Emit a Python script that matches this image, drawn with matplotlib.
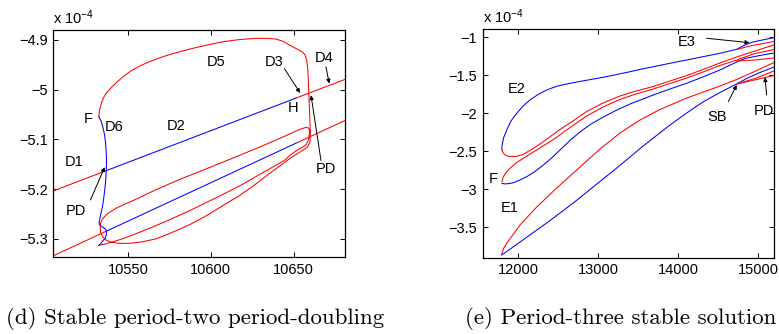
import matplotlib
matplotlib.use("Agg")
import matplotlib.pyplot as plt

plt.rcParams['font.family'] = ['Liberation Sans', 'DejaVu Sans']
plt.rcParams['mathtext.fontset'] = 'custom'
plt.rcParams['mathtext.rm'] = 'Liberation Sans'
plt.rcParams['mathtext.it'] = 'Liberation Sans'
plt.rcParams['mathtext.bf'] = 'Liberation Sans'

# ---------------- panel (d) data (y in units of 1e-4) ----------------
d_upper_red1_x = [10505, 10537]
d_upper_red1_y = [-5.2036, -5.1629]
d_upper_blue_x = [10537, 10651.4]
d_upper_blue_y = [-5.1629, -5.0172]
d_upper_red2_x = [10651.4, 10681]
d_upper_red2_y = [-5.0172, -4.9796]

d_lower_red1_x = [10505, 10538]
d_lower_red1_y = [-5.334, -5.283]
d_lower_blue_x = [10538, 10652.4]
d_lower_blue_y = [-5.283, -5.1063]
d_lower_red2_x = [10652.4, 10681]
d_lower_red2_y = [-5.1063, -5.0621]

d_loop_x = [10532.5, 10532.7, 10533.3, 10534.2, 10535.4, 10537.2, 10539.6, 10542.6,
            10547.0, 10551.6, 10557.0, 10563.1, 10569.1, 10575.1, 10581.1, 10587.2,
            10593.2, 10600.4, 10607.2, 10617.3, 10627.3, 10634.2, 10639.4, 10644.1,
            10647.4, 10651.6, 10655.4, 10657.0, 10657.9, 10658.6, 10659.0, 10659.5,
            10659.9, 10660.1, 10659.8, 10658.4, 10655.8, 10653.4, 10648.6, 10643.4,
            10635.4, 10627.3, 10617.3, 10607.2, 10597.4, 10587.2, 10576.9, 10567.1,
            10558.9, 10551.0, 10545.0, 10540.2, 10536.9, 10534.8, 10533.6, 10533.3,
            10533.6, 10534.8, 10537.0, 10539.6, 10543.0, 10547.4, 10553.0, 10560.1,
            10567.1, 10581.1, 10593.2, 10611.3, 10630.4, 10644.4, 10651.0, 10654.6,
            10657.5, 10658.9, 10659.7, 10659.5, 10659.2, 10658.3, 10657.5, 10655.6,
            10653.4, 10649.2, 10644.4, 10630.5, 10617.3, 10602.2, 10587.2, 10575.2,
            10563.1, 10554.0, 10546.8, 10542.0, 10539.0, 10535.4, 10532.5]
d_loop_y = [-5.0552, -5.0458, -5.0357, -5.0256, -5.0155, -5.0065, -4.9974, -4.9873,
            -4.9746, -4.9631, -4.9530, -4.9440, -4.9363, -4.9298, -4.9242, -4.9188,
            -4.9141, -4.9087, -4.9040, -4.8996, -4.8972, -4.8972, -4.8986, -4.9036,
            -4.9107, -4.9177, -4.9248, -4.9308, -4.9409, -4.9611, -4.9948, -5.0351,
            -5.0685, -5.0921, -5.1062, -5.1153, -5.1214, -5.1264, -5.1365, -5.1492,
            -5.1687, -5.1895, -5.2131, -5.2333, -5.2534, -5.2716, -5.2867, -5.2998,
            -5.3058, -5.3089, -5.3091, -5.3068, -5.3028, -5.2957, -5.2877, -5.2776,
            -5.2675, -5.2595, -5.2514, -5.2453, -5.2383, -5.2312, -5.2232, -5.2121,
            -5.2010, -5.1808, -5.1647, -5.1405, -5.1143, -5.0941, -5.0841, -5.0790,
            -5.0760, -5.0770, -5.0821, -5.0901, -5.0982, -5.1062, -5.1113, -5.1153,
            -5.1193, -5.1284, -5.1425, -5.1687, -5.1939, -5.2191, -5.2433, -5.2615,
            -5.2786, -5.2907, -5.2998, -5.3048, -5.3078, -5.3109, -5.3129]

d_d6_x = [10532.5, 10533.9, 10534.9, 10536.3, 10537.0, 10537.1, 10536.6, 10535.2,
          10533.7, 10532.7, 10532.7, 10533.0, 10533.7, 10534.6, 10535.4, 10536.0,
          10536.6, 10537.0, 10537.1, 10536.9, 10536.6, 10536.0, 10534.9, 10533.9,
          10532.5]
d_d6_y = [-5.3129, -5.3084, -5.3038, -5.2988, -5.2917, -5.2857, -5.2806, -5.2772,
          -5.2742, -5.2705, -5.2655, -5.2601, -5.2494, -5.2367, -5.2191, -5.2030,
          -5.1828, -5.1613, -5.1425, -5.1244, -5.1089, -5.0921, -5.0754, -5.0639,
          -5.0552]

d_xticks = [10550, 10600, 10650]
d_yticks = [-4.9, -5.0, -5.1, -5.2, -5.3]
d_yticklabels = ['\u22124.9', '\u22125', '\u22125.1', '\u22125.2', '\u22125.3']

d_labels = ['D5', 'D3', 'D4', 'H', 'F', 'D6', 'D2', 'D1', 'PD', 'PD']
d_label_x = [10603.2, 10638.4, 10668.5, 10649.4, 10525.9, 10542.0, 10579.2, 10517.3, 10518.5, 10669.5]
d_label_y = [-4.9444, -4.9440, -4.9375, -5.0380, -5.0585, -5.0754, -5.0740, -5.1460, -5.2447, -5.1590]

d_arrow_from = [(10644.4, -4.9577), (10669.5, -4.9544), (10666.5, -5.1425), (10527.4, -5.2218)]
d_arrow_to = [(10653.9, -5.0069), (10671.5, -4.9879), (10660.5, -5.0115), (10536.0, -5.1560)]

# ---------------- panel (e) data (y in units of 1e-4) ----------------
e_blue_E2_x = [15196, 15021, 14921, 14834, 14730, 14521, 14309, 14105, 13896, 13688,
               13534, 13396, 13234, 13063, 12859, 12646, 12484, 12355, 12246, 12146,
               12059, 11980, 11909, 11855, 11815, 11796, 11796]
e_blue_E2_y = [-1.005, -1.042, -1.066, -1.101, -1.158, -1.211, -1.255, -1.299, -1.342,
               -1.387, -1.420, -1.453, -1.489, -1.526, -1.564, -1.605, -1.643, -1.693,
               -1.753, -1.825, -1.904, -2.000, -2.101, -2.220, -2.325, -2.430, -2.483]
e_red_E2_x = [11796, 11809, 11834, 11871, 11921, 11980, 12059, 12146, 12228, 12313,
              12409, 12521, 12684, 12855, 13059, 13271, 13471, 13688, 13896, 14105,
              14309, 14521, 14730, 14938, 15196]
e_red_E2_y = [-2.483, -2.516, -2.549, -2.564, -2.570, -2.566, -2.542, -2.489, -2.434,
              -2.374, -2.299, -2.213, -2.101, -1.976, -1.864, -1.772, -1.707, -1.647,
              -1.575, -1.503, -1.424, -1.338, -1.259, -1.187, -1.101]
e_red_F_x = [11796, 11809, 11834, 11863, 11896, 11971, 12063, 12146, 12230, 12309,
             12396, 12484, 12584, 12709, 12855, 13059, 13271, 13471, 13688, 13896,
             14105, 14309, 14521, 14730, 14938, 15196]
e_red_F_y = [-2.897, -2.845, -2.799, -2.759, -2.724, -2.654, -2.592, -2.536, -2.483,
             -2.430, -2.374, -2.312, -2.233, -2.141, -2.036, -1.917, -1.818, -1.746,
             -1.680, -1.608, -1.536, -1.457, -1.371, -1.299, -1.220, -1.161]
e_blue_F_x = [11796, 11821, 11855, 11896, 11938, 12021, 12105, 12209, 12313, 12409,
              12521, 12646, 12771, 12909, 13063, 13221, 13396, 13688, 13896, 14105,
              14309, 14521, 14730, 14834, 15021, 15196]
e_blue_F_y = [-2.921, -2.928, -2.928, -2.922, -2.913, -2.878, -2.834, -2.766, -2.680,
              -2.595, -2.483, -2.358, -2.246, -2.141, -2.049, -1.963, -1.878, -1.759,
              -1.680, -1.605, -1.522, -1.430, -1.325, -1.279, -1.239, -1.207]
e_red_E3a_x = [14730, 14896, 15196]
e_red_E3a_y = [-1.161, -1.114, -1.055]
e_red_E3b_x = [14730, 14959, 15196]
e_red_E3b_y = [-1.312, -1.299, -1.272]
e_red_E1_x = [11793, 11815, 11855, 12021, 12230, 12480, 12771, 13021, 13271, 13521,
              13771, 14105, 14521, 14730, 14938, 15196]
e_red_E1_y = [-3.851, -3.779, -3.711, -3.470, -3.233, -2.983, -2.707, -2.470, -2.259,
              -2.088, -1.950, -1.799, -1.641, -1.555, -1.457, -1.332]
e_blue_E1_x = [11793, 11934, 12084, 12230, 12396, 12563, 12734, 12896, 13059, 13230,
               13396, 13546, 13688, 13896, 14105, 14309, 14521, 14730, 14855, 15021,
               15196]
e_blue_E1_y = [-3.864, -3.759, -3.647, -3.536, -3.411, -3.279, -3.141, -3.003, -2.864,
               -2.720, -2.575, -2.443, -2.325, -2.154, -1.996, -1.851, -1.726, -1.614,
               -1.542, -1.463, -1.391]
e_red_SB1_x = [14730, 14959, 15196]
e_red_SB1_y = [-1.614, -1.542, -1.443]
e_red_SB2_x = [14730, 14896, 15196]
e_red_SB2_y = [-1.614, -1.575, -1.503]

e_xticks = [12000, 13000, 14000, 15000]
e_yticks = [-1.0, -1.5, -2.0, -2.5, -3.0, -3.5]
e_yticklabels = ['\u22121', '\u22121.5', '\u22122', '\u22122.5', '\u22123', '\u22123.5']

e_labels = ['E3', 'E2', 'F', 'E1', 'SB', 'PD']
e_label_x = [14105, 11980, 11688, 11888, 14480, 15071]
e_label_y = [-1.058, -1.684, -2.864, -3.250, -2.045, -1.975]

e_arrow_from = [(14355, -1.013), (14625, -1.847), (15104, -1.760)]
e_arrow_to = [(14888, -1.071), (14730, -1.628), (15084, -1.526)]

captions = ['(d) Stable period-two period-doubling', '(e) Period-three stable solution']

RED = (1.0, 0.0, 0.0)
BLUE = (0.0, 0.0, 1.0)
LW = 0.75
FS = 10.5

fig = plt.figure(figsize=(7.79, 3.34), dpi=100)
W, H = 779.0, 334.0
axd = fig.add_axes([53.3 / W, (H - 257.3) / H, 291.7 / W, 227.3 / H])
axe = fig.add_axes([482.7 / W, (H - 257.5) / H, 291.6 / W, 228.2 / H])

# panel d
axd.plot(d_upper_red1_x, d_upper_red1_y, color=RED, lw=LW)
axd.plot(d_upper_blue_x, d_upper_blue_y, color=BLUE, lw=LW)
axd.plot(d_upper_red2_x, d_upper_red2_y, color=RED, lw=LW)
axd.plot(d_lower_red1_x, d_lower_red1_y, color=RED, lw=LW)
axd.plot(d_lower_blue_x, d_lower_blue_y, color=BLUE, lw=LW)
axd.plot(d_lower_red2_x, d_lower_red2_y, color=RED, lw=LW)
axd.plot(d_loop_x, d_loop_y, color=RED, lw=LW)
axd.plot(d_d6_x, d_d6_y, color=BLUE, lw=LW)
for t, x, y in zip(d_labels, d_label_x, d_label_y):
    axd.text(x, y, t, ha='center', va='center', fontsize=FS)
for a, b in zip(d_arrow_from, d_arrow_to):
    axd.annotate('', xy=b, xytext=a,
                 arrowprops=dict(arrowstyle='-|>', color='k', lw=0.7,
                                 mutation_scale=6, shrinkA=0, shrinkB=0))
axd.set_xlim(10505, 10681)
axd.set_ylim(-5.337, -4.8804)
axd.set_xticks(d_xticks)
axd.set_xticklabels([str(v) for v in d_xticks])
axd.set_yticks(d_yticks)
axd.set_yticklabels(d_yticklabels)

# panel e
axe.plot(e_blue_E2_x, e_blue_E2_y, color=BLUE, lw=LW)
axe.plot(e_red_E2_x, e_red_E2_y, color=RED, lw=LW)
axe.plot(e_red_F_x, e_red_F_y, color=RED, lw=LW)
axe.plot(e_blue_F_x, e_blue_F_y, color=BLUE, lw=LW)
axe.plot(e_red_E3a_x, e_red_E3a_y, color=RED, lw=LW)
axe.plot(e_red_E3b_x, e_red_E3b_y, color=RED, lw=LW)
axe.plot(e_red_E1_x, e_red_E1_y, color=RED, lw=LW)
axe.plot(e_blue_E1_x, e_blue_E1_y, color=BLUE, lw=LW)
axe.plot(e_red_SB1_x, e_red_SB1_y, color=RED, lw=LW)
axe.plot(e_red_SB2_x, e_red_SB2_y, color=RED, lw=LW)
for t, x, y in zip(e_labels, e_label_x, e_label_y):
    axe.text(x, y, t, ha='center', va='center', fontsize=FS)
for a, b in zip(e_arrow_from, e_arrow_to):
    axe.annotate('', xy=b, xytext=a,
                 arrowprops=dict(arrowstyle='-|>', color='k', lw=0.7,
                                 mutation_scale=6, shrinkA=0, shrinkB=0))
axe.set_xlim(11555, 15200)
axe.set_ylim(-3.897, -0.895)
axe.set_xticks(e_xticks)
axe.set_xticklabels([str(v) for v in e_xticks])
axe.set_yticks(e_yticks)
axe.set_yticklabels(e_yticklabels)

for ax in (axd, axe):
    ax.tick_params(direction='in', length=3.5, width=0.7, top=True, right=True,
                   labelsize=FS, pad=4)
    for s in ax.spines.values():
        s.set_linewidth(0.9)
    ax.text(0.0, 1.015, 'x 10$^{\u22124}$', transform=ax.transAxes, ha='left',
            va='bottom', fontsize=FS)

fig.text(6 / W, (H - 318) / H, captions[0], family='cmr10', fontsize=16.5,
         ha='left', va='center')
fig.text(465 / W, (H - 318) / H, captions[1], family='cmr10', fontsize=16.5,
         ha='left', va='center')

fig.savefig('out.png', dpi=100)
